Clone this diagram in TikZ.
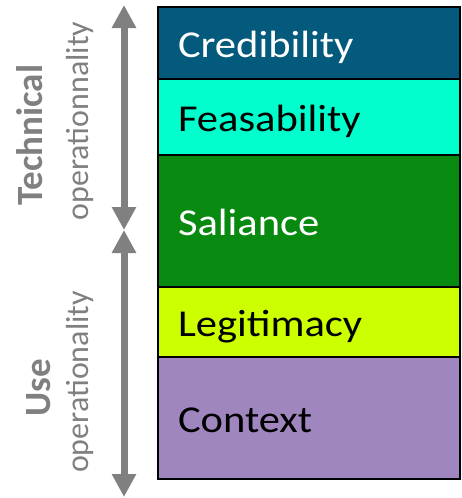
\documentclass[tikz,border=0pt]{standalone}
\usepackage{graphicx}
\usepackage{fontspec}
\setmainfont{Carlito}
\usetikzlibrary{positioning,arrows.meta}
\definecolor{deepsea}{HTML}{045A7D}
\definecolor{aqua}{HTML}{00FFCC}
\definecolor{grass}{HTML}{078A0F}
\definecolor{lime}{HTML}{CCFF00}
\definecolor{lilac}{HTML}{A086BE}
\definecolor{slate}{HTML}{808080}
% layer titles are set a little wider than the font
\newcommand{\widetitle}[1]{\scalebox{1.12}[1]{#1}}
\tikzset{
  layer/.style={draw=black,line width=2.5pt,outer sep=0pt,minimum width=302pt,
                text width=262pt,inner xsep=20pt,align=left,
                text height=30pt,text depth=2pt,
                font=\fontsize{38}{44}\selectfont},
  dark/.style={layer,text=white},
  light/.style={layer,text=black},
  axis/.style={{Triangle[width=23pt,length=23pt]}-{Triangle[width=23pt,length=23pt]},
               line width=7pt,draw=slate},
  sidehead/.style={rotate=90,anchor=base,text=slate,inner sep=0pt,
                   font=\fontsize{37}{40}\selectfont\bfseries},
  sidenote/.style={rotate=90,anchor=base,text=slate,inner sep=0pt,
                   font=\fontsize{32}{36}\selectfont}
}

\begin{document}
\begin{tikzpicture}[x=1pt,y=-1pt]
  \useasboundingbox (0,0) rectangle (461,498);
  % stack of layers, top to bottom
  \node[dark,fill=deepsea,minimum height=72pt,anchor=north] (cred) at (309,7) {\widetitle{Credibility}};
  \node[light,fill=aqua,minimum height=76pt,below=0pt of cred] (feas) {\widetitle{Feasability}};
  \node[dark,fill=grass,minimum height=132pt,below=0pt of feas] (sal) {\widetitle{Saliance}};
  \node[light,fill=lime,minimum height=70pt,below=0pt of sal] (legit) {\widetitle{Legitimacy}};
  \node[light,fill=lilac,minimum height=122pt,below=0pt of legit] (ctx) {\widetitle{Context}};
  % the two ranges on the left
  \coordinate (techtop) at (124,5);
  \coordinate (split) at (124,230);
  \coordinate (usebot) at (124,497);
  \draw[axis] (techtop) -- (split);
  \draw[axis] (split) -- (usebot);
  \node[sidehead] (tech) at (42,135) {Technical};
  \node[sidenote] (techop) at (88,121) {operationnality};
  \node[sidehead] (use) at (50,388) {Use};
  \node[sidenote] (useop) at (88,382) {operationality};
\end{tikzpicture}
\end{document}
